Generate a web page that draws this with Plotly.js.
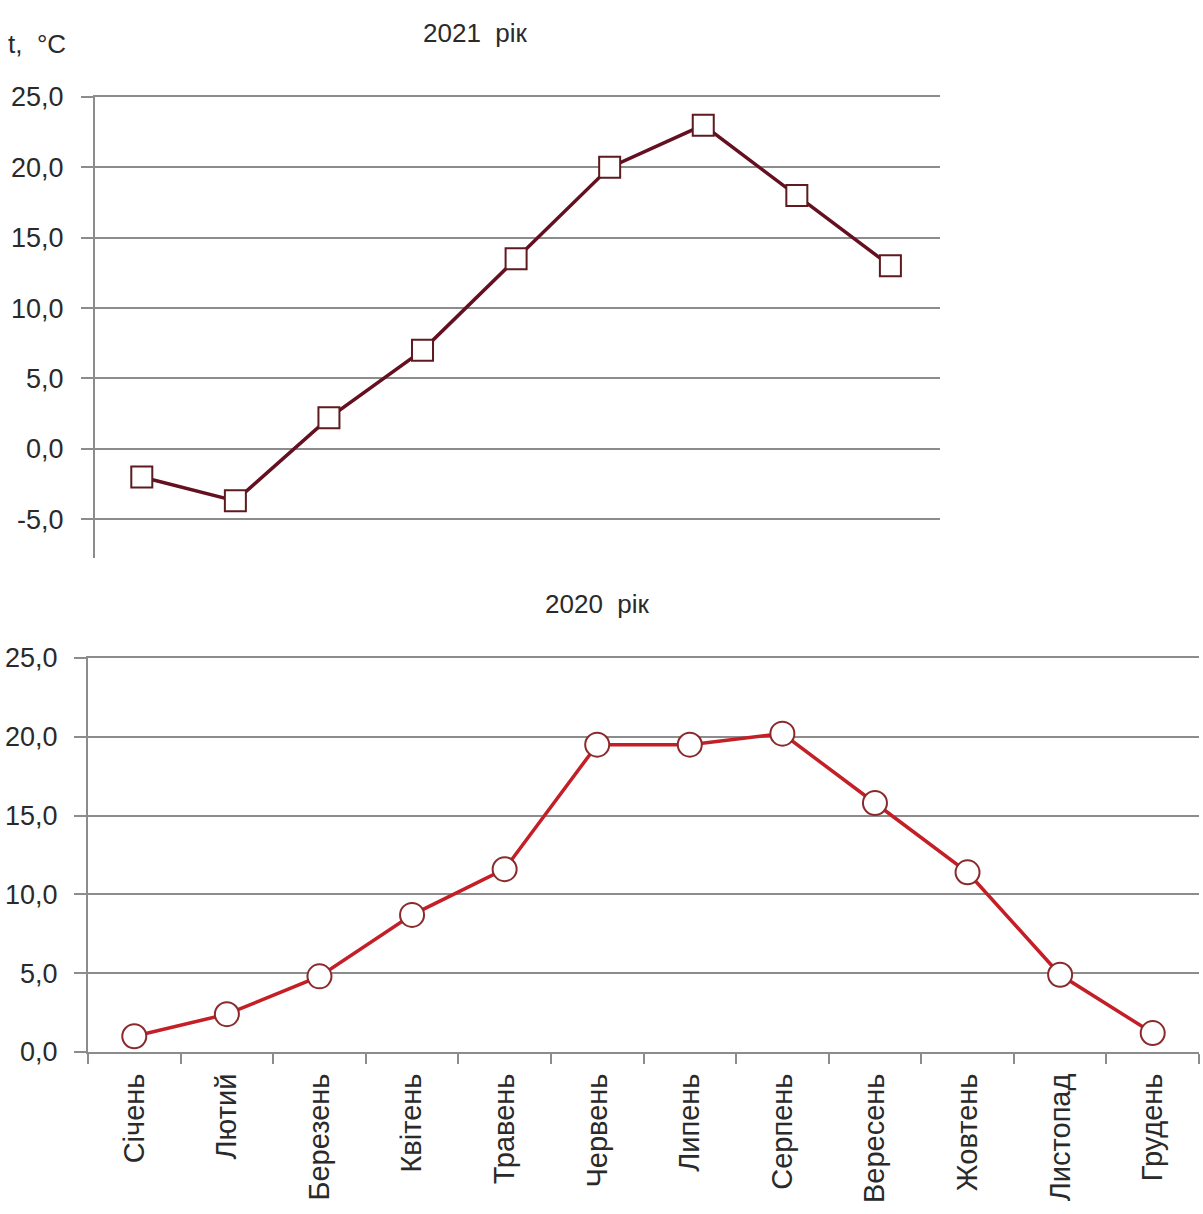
<!DOCTYPE html>
<html>
<head>
<meta charset="utf-8">
<script src="https://cdn.plot.ly/plotly-3.0.1.min.js"></script>
<style>html,body{margin:0;padding:0;background:#fff;}#chart{width:1203px;height:1214px;}</style>
</head>
<body>
<div id="chart"></div>
<script>
const months2021 = ["Січень","Лютий","Березень","Квітень","Травень","Червень","Липень","Серпень","Вересень"];
const temps2021 = [-2.0, -3.7, 2.2, 7.0, 13.5, 20.0, 23.0, 18.0, 13.0];
const months2020 = ["Січень","Лютий","Березень","Квітень","Травень","Червень","Липень","Серпень","Вересень","Жовтень","Листопад","Грудень"];
const temps2020 = [1.0, 2.4, 4.8, 8.7, 11.6, 19.5, 19.5, 20.2, 15.8, 11.4, 4.9, 1.2];
const yTicks = [-5, 0, 5, 10, 15, 20, 25];
const yTickText = ["-5,0", "0,0", "5,0", "10,0", "15,0", "20,0", "25,0"];

const FONT = "'Liberation Sans Narrow', 'Arial Narrow', 'Liberation Sans', Arial, sans-serif";
const W = 1203, H = 1214;
const px = v => v / W;
const py = v => 1 - v / H;

const traces = [
  {
    x: months2021, y: temps2021, xaxis: "x", yaxis: "y",
    type: "scatter", mode: "lines+markers",
    line: {color: "#641020", width: 3.5},
    marker: {symbol: "square", size: 21, color: "#ffffff", line: {color: "#5e1a1e", width: 2}},
    hoverinfo: "x+y"
  },
  {
    x: months2020, y: temps2020, xaxis: "x2", yaxis: "y2",
    type: "scatter", mode: "lines+markers",
    line: {color: "#c41e26", width: 3.5},
    marker: {symbol: "circle", size: 24, color: "#ffffff", line: {color: "#8a2a2c", width: 2}},
    hoverinfo: "x+y"
  }
];

const yCommon = {
  tickmode: "array", tickvals: yTicks, ticktext: yTickText,
  showgrid: true, gridcolor: "#8c8c8c", gridwidth: 2,
  showline: true, linecolor: "#8c8c8c", linewidth: 2,
  ticks: "outside", ticklen: 12, tickwidth: 2, tickcolor: "#8c8c8c",
  tickfont: {family: FONT, size: 27, color: "#2a2a2a"},
  zeroline: false, fixedrange: true
};

const layout = {
  width: W, height: H,
  margin: {l: 0, r: 0, t: 0, b: 0},
  paper_bgcolor: "#ffffff", plot_bgcolor: "#ffffff",
  showlegend: false,
  font: {family: FONT, color: "#2a2a2a"},
  xaxis: {
    domain: [px(95), px(940)], anchor: "y", side: "top",
    type: "category", range: [-0.5, 8.53],
    showticklabels: false, ticks: "", showgrid: false,
    showline: true, linecolor: "#8c8c8c", linewidth: 2,
    zeroline: false, fixedrange: true
  },
  yaxis: Object.assign({}, yCommon, {
    domain: [py(558), py(97)], anchor: "x", range: [-7.76, 25], ticklabelstandoff: 12
  }),
  xaxis2: {
    domain: [px(88), px(1199)], anchor: "y2",
    type: "category", range: [-0.5, 11.5],
    showgrid: false, showline: true, mirror: true, linecolor: "#8c8c8c", linewidth: 2,
    ticks: "outside", ticklen: 10, tickwidth: 2, tickcolor: "#8c8c8c", tickson: "boundaries",
    tickangle: -90, tickfont: {family: FONT, size: 29, color: "#2a2a2a"}, ticklabelstandoff: 8,
    zeroline: false, fixedrange: true
  },
  yaxis2: Object.assign({}, yCommon, {
    domain: [py(1052), py(658)], anchor: "x2", range: [0, 25], ticklabelstandoff: 11
  }),
  annotations: [
    {text: "2021  рік", xref: "paper", yref: "paper", x: px(475), y: py(33), xanchor: "center", yanchor: "middle",
     showarrow: false, font: {family: FONT, size: 26, color: "#2a2a2a"}},
    {text: "2020  рік", xref: "paper", yref: "paper", x: px(597), y: py(604), xanchor: "center", yanchor: "middle",
     showarrow: false, font: {family: FONT, size: 26, color: "#2a2a2a"}},
    {text: "t,  °C", xref: "paper", yref: "paper", x: px(37), y: py(44), xanchor: "center", yanchor: "middle",
     showarrow: false, font: {family: FONT, size: 26, color: "#2a2a2a"}}
  ]
};

Plotly.newPlot("chart", traces, layout, {displayModeBar: false});
</script>
</body>
</html>
